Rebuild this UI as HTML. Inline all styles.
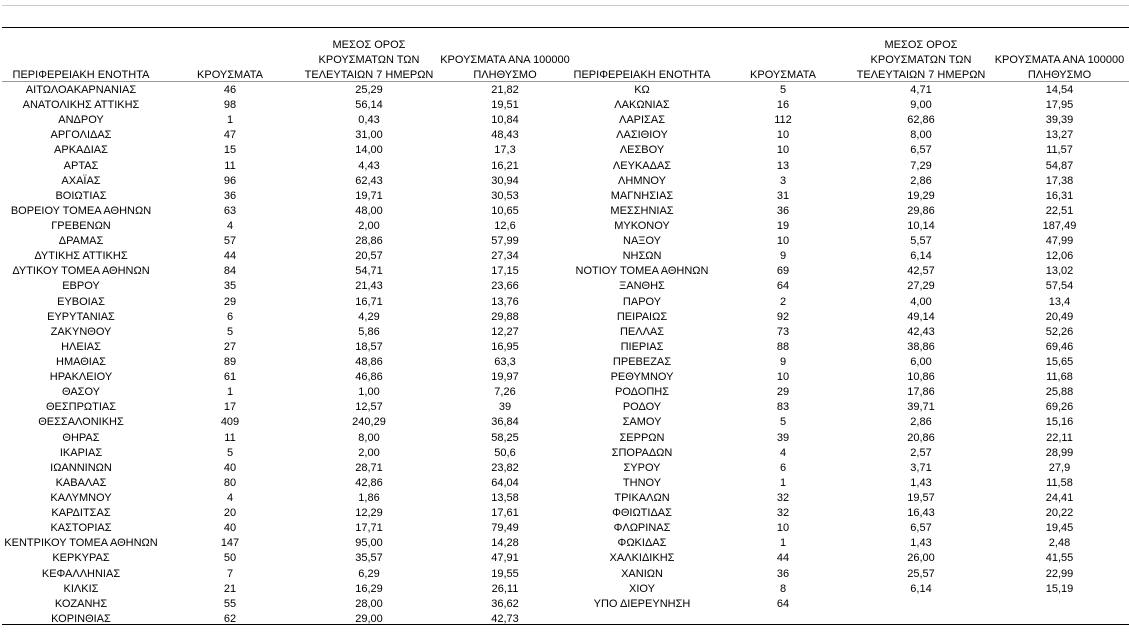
<!DOCTYPE html>
<html><head><meta charset="utf-8"><style>
body{margin:0;width:1129px;height:640px;background:#fff;position:relative;overflow:hidden;font-family:"Liberation Sans",sans-serif;font-size:11px;color:#000}
.l{position:absolute;left:2px;width:1127px}
table{position:absolute;left:0;border-collapse:collapse;table-layout:fixed;width:1129px}
td{padding:0;text-align:center;white-space:nowrap;overflow:visible;height:15.11px;line-height:15.11px}
#h td{height:15px;line-height:15px;vertical-align:bottom}
</style></head><body>
<div class="l" style="top:5px;height:1px;background:#ccc"></div>
<div class="l" style="top:27px;height:1px;background:#000"></div>
<div class="l" style="top:81px;height:1px;background:#999"></div>
<div class="l" style="top:624px;height:1px;background:#000"></div>
<table id="h" style="top:38px">
<colgroup><col style="width:162px"><col style="width:136px"><col style="width:142px"><col style="width:130px"><col style="width:144px"><col style="width:138px"><col style="width:138px"><col style="width:139px"></colgroup>
<tr><td></td><td></td><td>ΜΕΣΟΣ ΟΡΟΣ</td><td></td><td></td><td></td><td>ΜΕΣΟΣ ΟΡΟΣ</td><td></td></tr>
<tr><td></td><td></td><td>ΚΡΟΥΣΜΑΤΩΝ ΤΩΝ</td><td>ΚΡΟΥΣΜΑΤΑ ΑΝΑ 100000</td><td></td><td></td><td>ΚΡΟΥΣΜΑΤΩΝ ΤΩΝ</td><td>ΚΡΟΥΣΜΑΤΑ ΑΝΑ 100000</td></tr>
<tr><td>ΠΕΡΙΦΕΡΕΙΑΚΗ ΕΝΟΤΗΤΑ</td><td>ΚΡΟΥΣΜΑΤΑ</td><td>ΤΕΛΕΥΤΑΙΩΝ 7 ΗΜΕΡΩΝ</td><td>ΠΛΗΘΥΣΜΟ</td><td>ΠΕΡΙΦΕΡΕΙΑΚΗ ΕΝΟΤΗΤΑ</td><td>ΚΡΟΥΣΜΑΤΑ</td><td>ΤΕΛΕΥΤΑΙΩΝ 7 ΗΜΕΡΩΝ</td><td>ΠΛΗΘΥΣΜΟ</td></tr>
</table>
<table style="top:83px">
<colgroup><col style="width:162px"><col style="width:136px"><col style="width:142px"><col style="width:130px"><col style="width:144px"><col style="width:138px"><col style="width:138px"><col style="width:139px"></colgroup>
<tr><td>ΑΙΤΩΛΟΑΚΑΡΝΑΝΙΑΣ</td><td>46</td><td>25,29</td><td>21,82</td><td>ΚΩ</td><td>5</td><td>4,71</td><td>14,54</td></tr>
<tr><td>ΑΝΑΤΟΛΙΚΗΣ ΑΤΤΙΚΗΣ</td><td>98</td><td>56,14</td><td>19,51</td><td>ΛΑΚΩΝΙΑΣ</td><td>16</td><td>9,00</td><td>17,95</td></tr>
<tr><td>ΑΝΔΡΟΥ</td><td>1</td><td>0,43</td><td>10,84</td><td>ΛΑΡΙΣΑΣ</td><td>112</td><td>62,86</td><td>39,39</td></tr>
<tr><td>ΑΡΓΟΛΙΔΑΣ</td><td>47</td><td>31,00</td><td>48,43</td><td>ΛΑΣΙΘΙΟΥ</td><td>10</td><td>8,00</td><td>13,27</td></tr>
<tr><td>ΑΡΚΑΔΙΑΣ</td><td>15</td><td>14,00</td><td>17,3</td><td>ΛΕΣΒΟΥ</td><td>10</td><td>6,57</td><td>11,57</td></tr>
<tr><td>ΑΡΤΑΣ</td><td>11</td><td>4,43</td><td>16,21</td><td>ΛΕΥΚΑΔΑΣ</td><td>13</td><td>7,29</td><td>54,87</td></tr>
<tr><td>ΑΧΑΪΑΣ</td><td>96</td><td>62,43</td><td>30,94</td><td>ΛΗΜΝΟΥ</td><td>3</td><td>2,86</td><td>17,38</td></tr>
<tr><td>ΒΟΙΩΤΙΑΣ</td><td>36</td><td>19,71</td><td>30,53</td><td>ΜΑΓΝΗΣΙΑΣ</td><td>31</td><td>19,29</td><td>16,31</td></tr>
<tr><td>ΒΟΡΕΙΟΥ ΤΟΜΕΑ ΑΘΗΝΩΝ</td><td>63</td><td>48,00</td><td>10,65</td><td>ΜΕΣΣΗΝΙΑΣ</td><td>36</td><td>29,86</td><td>22,51</td></tr>
<tr><td>ΓΡΕΒΕΝΩΝ</td><td>4</td><td>2,00</td><td>12,6</td><td>ΜΥΚΟΝΟΥ</td><td>19</td><td>10,14</td><td>187,49</td></tr>
<tr><td>ΔΡΑΜΑΣ</td><td>57</td><td>28,86</td><td>57,99</td><td>ΝΑΞΟΥ</td><td>10</td><td>5,57</td><td>47,99</td></tr>
<tr><td>ΔΥΤΙΚΗΣ ΑΤΤΙΚΗΣ</td><td>44</td><td>20,57</td><td>27,34</td><td>ΝΗΣΩΝ</td><td>9</td><td>6,14</td><td>12,06</td></tr>
<tr><td>ΔΥΤΙΚΟΥ ΤΟΜΕΑ ΑΘΗΝΩΝ</td><td>84</td><td>54,71</td><td>17,15</td><td>ΝΟΤΙΟΥ ΤΟΜΕΑ ΑΘΗΝΩΝ</td><td>69</td><td>42,57</td><td>13,02</td></tr>
<tr><td>ΕΒΡΟΥ</td><td>35</td><td>21,43</td><td>23,66</td><td>ΞΑΝΘΗΣ</td><td>64</td><td>27,29</td><td>57,54</td></tr>
<tr><td>ΕΥΒΟΙΑΣ</td><td>29</td><td>16,71</td><td>13,76</td><td>ΠΑΡΟΥ</td><td>2</td><td>4,00</td><td>13,4</td></tr>
<tr><td>ΕΥΡΥΤΑΝΙΑΣ</td><td>6</td><td>4,29</td><td>29,88</td><td>ΠΕΙΡΑΙΩΣ</td><td>92</td><td>49,14</td><td>20,49</td></tr>
<tr><td>ΖΑΚΥΝΘΟΥ</td><td>5</td><td>5,86</td><td>12,27</td><td>ΠΕΛΛΑΣ</td><td>73</td><td>42,43</td><td>52,26</td></tr>
<tr><td>ΗΛΕΙΑΣ</td><td>27</td><td>18,57</td><td>16,95</td><td>ΠΙΕΡΙΑΣ</td><td>88</td><td>38,86</td><td>69,46</td></tr>
<tr><td>ΗΜΑΘΙΑΣ</td><td>89</td><td>48,86</td><td>63,3</td><td>ΠΡΕΒΕΖΑΣ</td><td>9</td><td>6,00</td><td>15,65</td></tr>
<tr><td>ΗΡΑΚΛΕΙΟΥ</td><td>61</td><td>46,86</td><td>19,97</td><td>ΡΕΘΥΜΝΟΥ</td><td>10</td><td>10,86</td><td>11,68</td></tr>
<tr><td>ΘΑΣΟΥ</td><td>1</td><td>1,00</td><td>7,26</td><td>ΡΟΔΟΠΗΣ</td><td>29</td><td>17,86</td><td>25,88</td></tr>
<tr><td>ΘΕΣΠΡΩΤΙΑΣ</td><td>17</td><td>12,57</td><td>39</td><td>ΡΟΔΟΥ</td><td>83</td><td>39,71</td><td>69,26</td></tr>
<tr><td>ΘΕΣΣΑΛΟΝΙΚΗΣ</td><td>409</td><td>240,29</td><td>36,84</td><td>ΣΑΜΟΥ</td><td>5</td><td>2,86</td><td>15,16</td></tr>
<tr><td>ΘΗΡΑΣ</td><td>11</td><td>8,00</td><td>58,25</td><td>ΣΕΡΡΩΝ</td><td>39</td><td>20,86</td><td>22,11</td></tr>
<tr><td>ΙΚΑΡΙΑΣ</td><td>5</td><td>2,00</td><td>50,6</td><td>ΣΠΟΡΑΔΩΝ</td><td>4</td><td>2,57</td><td>28,99</td></tr>
<tr><td>ΙΩΑΝΝΙΝΩΝ</td><td>40</td><td>28,71</td><td>23,82</td><td>ΣΥΡΟΥ</td><td>6</td><td>3,71</td><td>27,9</td></tr>
<tr><td>ΚΑΒΑΛΑΣ</td><td>80</td><td>42,86</td><td>64,04</td><td>ΤΗΝΟΥ</td><td>1</td><td>1,43</td><td>11,58</td></tr>
<tr><td>ΚΑΛΥΜΝΟΥ</td><td>4</td><td>1,86</td><td>13,58</td><td>ΤΡΙΚΑΛΩΝ</td><td>32</td><td>19,57</td><td>24,41</td></tr>
<tr><td>ΚΑΡΔΙΤΣΑΣ</td><td>20</td><td>12,29</td><td>17,61</td><td>ΦΘΙΩΤΙΔΑΣ</td><td>32</td><td>16,43</td><td>20,22</td></tr>
<tr><td>ΚΑΣΤΟΡΙΑΣ</td><td>40</td><td>17,71</td><td>79,49</td><td>ΦΛΩΡΙΝΑΣ</td><td>10</td><td>6,57</td><td>19,45</td></tr>
<tr><td>ΚΕΝΤΡΙΚΟΥ ΤΟΜΕΑ ΑΘΗΝΩΝ</td><td>147</td><td>95,00</td><td>14,28</td><td>ΦΩΚΙΔΑΣ</td><td>1</td><td>1,43</td><td>2,48</td></tr>
<tr><td>ΚΕΡΚΥΡΑΣ</td><td>50</td><td>35,57</td><td>47,91</td><td>ΧΑΛΚΙΔΙΚΗΣ</td><td>44</td><td>26,00</td><td>41,55</td></tr>
<tr><td>ΚΕΦΑΛΛΗΝΙΑΣ</td><td>7</td><td>6,29</td><td>19,55</td><td>ΧΑΝΙΩΝ</td><td>36</td><td>25,57</td><td>22,99</td></tr>
<tr><td>ΚΙΛΚΙΣ</td><td>21</td><td>16,29</td><td>26,11</td><td>ΧΙΟΥ</td><td>8</td><td>6,14</td><td>15,19</td></tr>
<tr><td>ΚΟΖΑΝΗΣ</td><td>55</td><td>28,00</td><td>36,62</td><td>ΥΠΟ ΔΙΕΡΕΥΝΗΣΗ</td><td>64</td><td></td><td></td></tr>
<tr><td>ΚΟΡΙΝΘΙΑΣ</td><td>62</td><td>29,00</td><td>42,73</td><td></td><td></td><td></td><td></td></tr>
</table>
</body></html>
